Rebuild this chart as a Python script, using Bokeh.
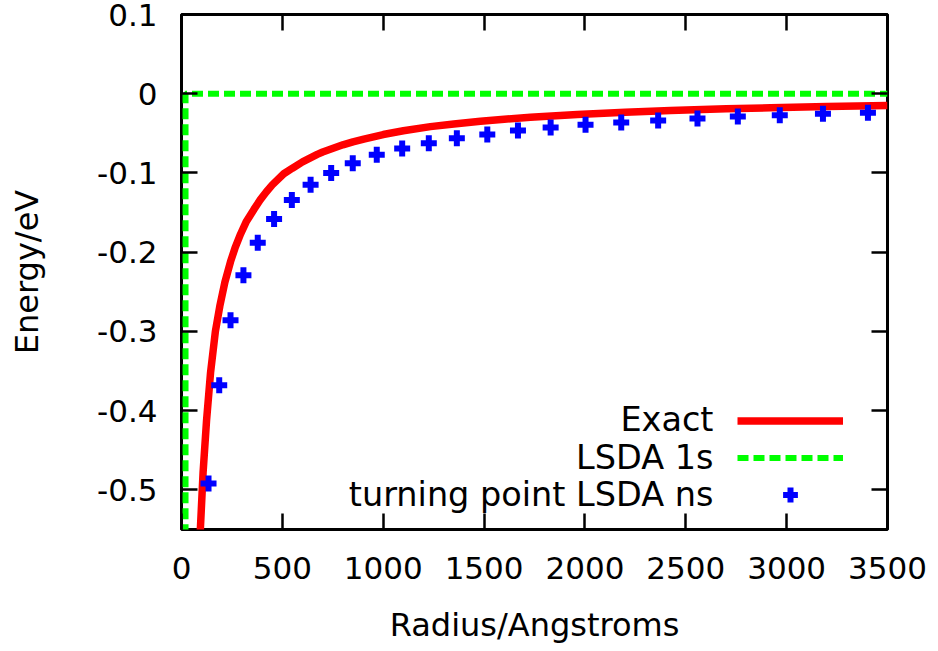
from bokeh.plotting import figure
from bokeh.models import (Range1d, FixedTicker, LinearAxis, Legend, LegendItem, Label)
from bokeh.embed import file_html
from bokeh.resources import INLINE

# ---- data ----
exact_r = [85, 94, 107, 124, 144, 168, 190, 215, 243, 265, 293, 320, 359, 390, 420,
           450, 507, 550, 600, 673, 700, 800, 850, 904, 1000, 1100, 1234, 1350, 1482,
           1600, 1730, 1962, 2200, 2424, 2700, 2920, 3200, 3500]
exact_e = [-0.605, -0.547, -0.478, -0.413, -0.352, -0.300, -0.268, -0.238, -0.212,
           -0.195, -0.177, -0.162, -0.146, -0.134, -0.124, -0.115, -0.101, -0.094,
           -0.086, -0.0765, -0.0735, -0.0645, -0.0607, -0.0572, -0.0515, -0.0468,
           -0.0415, -0.0382, -0.0348, -0.0322, -0.0297, -0.0262, -0.0235, -0.0212,
           -0.0191, -0.0177, -0.0162, -0.0149]

lsda1s_r = [20, 20, 3500]
lsda1s_e = [-5.0, 0.0, 0.0]

tp_r = [134, 187, 243, 307, 378, 459, 547, 640, 742, 849, 968, 1094, 1226, 1365,
        1516, 1668, 1830, 2003, 2180, 2363, 2558, 2758, 2966, 3180, 3403]
tp_e = [-0.492, -0.368, -0.286, -0.229, -0.188, -0.158, -0.134, -0.115, -0.100,
        -0.0877, -0.0771, -0.0692, -0.0625, -0.0561, -0.0515, -0.0464, -0.0427,
        -0.0393, -0.0364, -0.0338, -0.0313, -0.0288, -0.0271, -0.0254, -0.0241]

x_ticks = [0, 500, 1000, 1500, 2000, 2500, 3000, 3500]
y_ticks = [-0.5, -0.4, -0.3, -0.2, -0.1, 0, 0.1]
y_tick_labels = ["-0.5", "-0.4", "-0.3", "-0.2", "-0.1", "0", "0.1"]
series_names = ["Exact", "LSDA 1s", "turning point LSDA ns"]

FONT = "DejaVu Sans"

p = figure(width=938, height=651, output_backend="svg", toolbar_location=None,
           x_range=Range1d(0, 3500), y_range=Range1d(-0.55, 0.1),
           min_border_left=181, min_border_right=51, min_border_top=14,
           min_border_bottom=122)
p.background_fill_color = "white"
p.border_fill_color = "white"
p.outline_line_color = "black"
p.outline_line_width = 3
p.xgrid.visible = False
p.ygrid.visible = False

r_exact = p.line(exact_r, exact_e, line_color="#ff0000", line_width=7.5)
r_lsda = p.line(lsda1s_r, lsda1s_e, line_color="#00ff00", line_width=6, line_dash="11 5")
r_tp = p.scatter(tp_r, tp_e, marker="cross", size=16, line_color="#0000ff",
                 line_width=6)

ax_ticks = {"x": x_ticks, "y": y_ticks}

def style_axis(ax, kind, show_labels):
    ax.ticker = FixedTicker(ticks=ax_ticks[kind])
    ax.axis_line_color = None
    ax.major_tick_in = 16
    ax.major_tick_out = 0
    ax.major_tick_line_width = 2.5
    ax.major_tick_line_color = "black"
    ax.minor_tick_line_color = None
    if show_labels:
        ax.major_label_text_font = FONT
        ax.major_label_text_font_size = "31px"
        ax.major_label_text_color = "black"
        ax.axis_label_text_font = FONT
        ax.axis_label_text_font_size = "32px"
        ax.axis_label_text_font_style = "normal"
        ax.axis_label_text_color = "black"
    else:
        ax.major_label_overrides = {t: "" for t in ax_ticks[kind]}
        ax.major_label_standoff = 0

xa = p.xaxis[0]
style_axis(xa, "x", True)
xa.major_label_standoff = 27
xa.axis_label = "Radius/Angstroms"
xa.axis_label_standoff = 24

ya = p.yaxis[0]
style_axis(ya, "y", True)
ya.major_label_standoff = 24
ya.major_label_overrides = {t: s for t, s in zip(y_ticks, y_tick_labels)}
ya.axis_label = "Energy/eV"
ya.axis_label_standoff = 48

top = LinearAxis()
style_axis(top, "x", False)
p.add_layout(top, "above")
right = LinearAxis()
style_axis(right, "y", False)
p.add_layout(right, "right")

# legend: samples via Legend (blank labels), texts as labels to the left
legend = Legend(items=[LegendItem(label=" ", renderers=[r]) for r in (r_exact, r_lsda, r_tp)],
                location=(556, 16), glyph_width=106, glyph_height=37, label_width=0,
                label_height=37, label_standoff=0, label_text_font_size="20px",
                padding=0, spacing=0, margin=0, border_line_alpha=0,
                background_fill_alpha=0)
p.add_layout(legend, "center")

for i, name in enumerate(series_names):
    p.add_layout(Label(x=532, y=110 - 37.5 * i, x_units="screen", y_units="screen",
                       text=name, text_align="right", text_baseline="middle",
                       text_font=FONT, text_font_size="33.5px", text_color="black"))

open("out.html", "w").write(file_html(p, INLINE))
